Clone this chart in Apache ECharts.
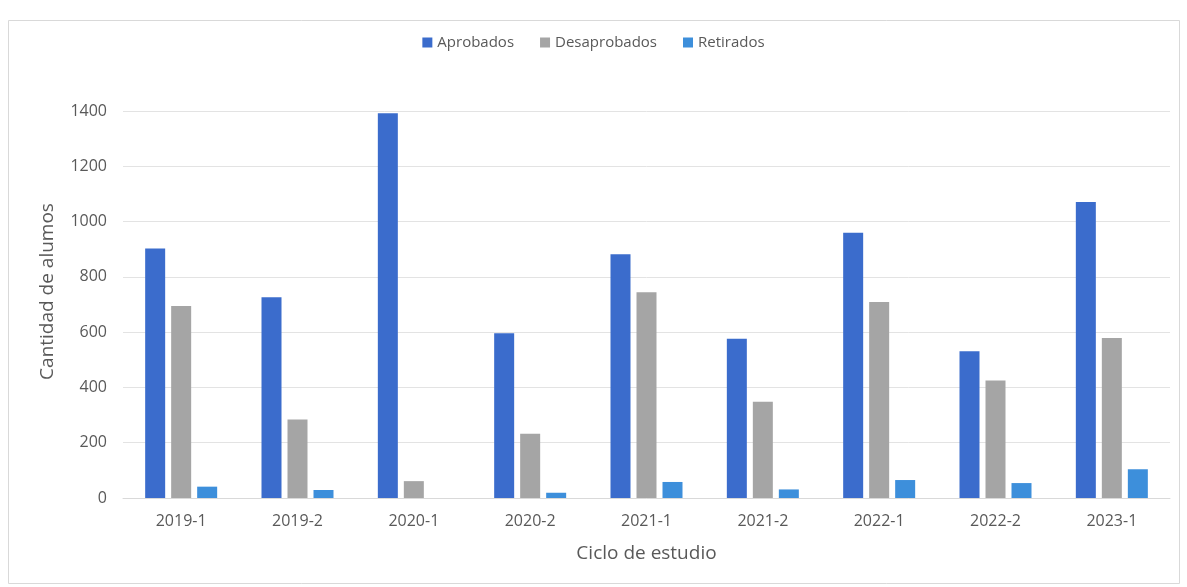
<!DOCTYPE html>
<html>
<head>
<meta charset="utf-8">
<script src="https://cdn.jsdelivr.net/npm/echarts@6/dist/echarts.min.js"></script>
<style>
html,body{margin:0;padding:0;background:#fff;}
#c{width:1187px;height:587px;}
</style>
</head>
<body>
<div id="c"></div>
<script>
const categories = ['2019-1','2019-2','2020-1','2020-2','2021-1','2021-2','2022-1','2022-2','2023-1'];
const aprobados = [903, 726, 1392, 596, 882, 576, 960, 531, 1071];
const desaprobados = [695, 284, 61, 232, 744, 348, 709, 425, 579];
const retirados = [41, 29, 0, 19, 58, 31, 65, 54, 104];
const seriesNames = ['Aprobados', 'Desaprobados', 'Retirados'];

const font = '"Open Sans", "Noto Sans", sans-serif';
const chart = echarts.init(document.getElementById('c'), null, {renderer: 'canvas'});
chart.setOption({
  backgroundColor: '#ffffff',
  animation: false,
  graphic: [{
    type: 'rect', shape: {x: 8.5, y: 20.5, width: 1171, height: 563},
    style: {fill: 'none', stroke: '#d9d9d9', lineWidth: 1}, silent: true, z: -1
  }],
  legend: {
    data: seriesNames, top: 30, left: 'center',
    itemWidth: 10, itemHeight: 10, itemGap: 26, icon: 'rect',
    textStyle: {fontFamily: font, fontSize: 15, color: '#595959'}
  },
  grid: {left: 123, right: 17, top: 111, bottom: 89},
  xAxis: {
    type: 'category', data: categories,
    name: 'Ciclo de estudio', nameLocation: 'middle', nameGap: 46,
    nameTextStyle: {fontFamily: font, fontSize: 19, color: '#595959'},
    axisLine: {lineStyle: {color: '#d9d9d9'}},
    axisTick: {show: false},
    axisLabel: {fontFamily: font, fontSize: 16, color: '#595959', margin: 15}
  },
  yAxis: {
    type: 'value', min: 0, max: 1400, interval: 200,
    name: 'Cantidad de alumos', nameLocation: 'middle', nameGap: 66,
    nameTextStyle: {fontFamily: font, fontSize: 19, color: '#595959', padding: [0, 0, 0, 26]},
    axisLine: {show: false}, axisTick: {show: false},
    axisLabel: {fontFamily: font, fontSize: 16, color: '#595959', margin: 16, formatter: function (v) { return String(v); }},
    splitLine: {lineStyle: {color: '#e3e3e3'}}
  },
  series: [
    {name: seriesNames[0], type: 'bar', data: aprobados, itemStyle: {color: '#3b6ccc'}, barWidth: 20, barGap: '30%'},
    {name: seriesNames[1], type: 'bar', data: desaprobados, itemStyle: {color: '#a5a5a5'}, barWidth: 20, barGap: '30%'},
    {name: seriesNames[2], type: 'bar', data: retirados, itemStyle: {color: '#3d8fdb'}, barWidth: 20, barGap: '30%'}
  ]
});
</script>
</body>
</html>
